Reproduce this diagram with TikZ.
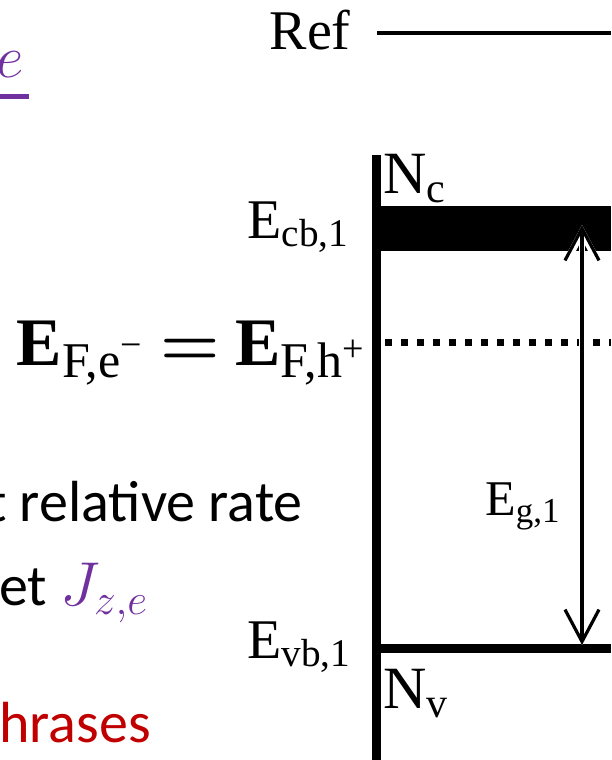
\RequirePackage{fix-cm}
\documentclass[tikz,border=0pt]{standalone}
\usepackage{amsmath}
\usepackage{fontspec}
\setmainfont{Liberation Serif}
\newfontfamily\calibfont{Carlito}
\usepackage{xcolor}
\usetikzlibrary{arrows.meta}
\definecolor{jpurple}{HTML}{7030A0}
\definecolor{phrasered}{HTML}{C00000}
\newcommand{\fermisub}[1]{\raisebox{-6pt}{\fontsize{25}{26}\selectfont F,#1}}

\begin{document}
\begin{tikzpicture}[x=0.5pt, y=-0.5pt,
  lbl/.style={inner sep=0pt, font=\fontsize{28}{30}\selectfont},
  slide/.style={inner sep=0pt, font=\calibfont\fontsize{29}{32}\selectfont},
  axis/.style={line width=4.5pt},
  vband/.style={line width=4.5pt},
  fermi/.style={line width=3.5pt, dash pattern=on 3.5pt off 4.5pt},
  gaparr/.style={{Straight Barb[length=16pt,width=17pt]}-{Straight Barb[length=16pt,width=17pt]}, line width=1.6pt},
]
\clip (0,0) rectangle (611,760);

% left slide text (cut off)
\node[inner sep=0pt, anchor=base east, text=jpurple, font=\fontsize{30}{32}\selectfont] (enum) at (24,77) {$e$};
\fill[jpurple] (0,94) rectangle (29,99);
\node[slide, anchor=base east] (rate) at (303,521) {t relative rate};
\node[slide, anchor=base west] (jz) at (-1,605) {et \textcolor{jpurple}{\fontsize{31}{32}\selectfont$J_{z,e}$}};
\node[slide, anchor=base west, text=phrasered] (phr) at (-1,742) {hrases};
\node[inner sep=0pt, anchor=base east, font=\fontsize{34}{36}\selectfont] (ef) at (364,365)
  {\textbf{E}\fermisub{e\raisebox{10pt}{\fontsize{19}{20}\selectfont −}}\hspace{9pt}$\boldsymbol{=}$\hspace{8pt}\textbf{E}\fermisub{h\raisebox{8pt}{\fontsize{19}{20}\selectfont +}}};

% reference level
\node[lbl, anchor=base east] (ref) at (351,49) {Ref};
\coordinate (refa) at (377,33);
\coordinate (refb) at (611,33);
\draw[line width=2pt] (refa) -- (refb);

% band diagram
\coordinate (axtop) at (376.5,155);
\coordinate (axbot) at (376.5,760);
\draw[axis] (axtop) -- (axbot);
\fill (376,206) rectangle (611,251);
\coordinate (vba) at (376,648);
\coordinate (vbb) at (611,648);
\draw[vband] (vba) -- (vbb);
\coordinate (efa) at (385,342);
\coordinate (efb) at (611,342);
\draw[fermi] (efa) -- (efb);

\node[lbl, anchor=base west] (ecb) at (247,238) {E\textsubscript{cb,1}};
\node[lbl, anchor=base west] (evb) at (247,658) {E\textsubscript{vb,1}};
\node[lbl, anchor=base west, font=\fontsize{30}{30}\selectfont] (nc) at (383,193) {N\textsubscript{c}};
\node[lbl, anchor=base west, font=\fontsize{30}{30}\selectfont] (nv) at (383,708) {N\textsubscript{v}};
\node[lbl, anchor=base west, font=\fontsize{25}{30}\selectfont] (eg) at (485,515) {E\textsubscript{g,1}};

% gap arrow
\coordinate (gtop) at (582,225);
\coordinate (gbot) at (582,645);
\draw[gaparr, white, line width=3.4pt] (gtop) -- (gbot);
\draw[gaparr] (gtop) -- (gbot);
\end{tikzpicture}
\end{document}
